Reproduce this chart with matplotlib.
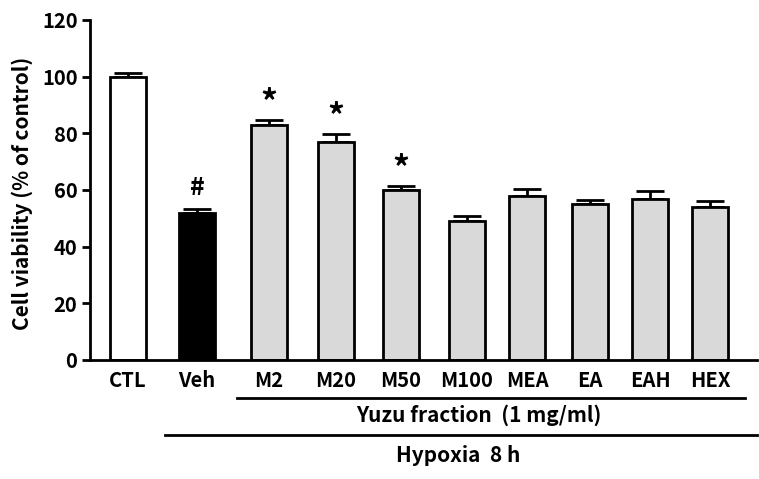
import numpy as np
import matplotlib.pyplot as plt
import matplotlib.transforms as mtransforms

plt.rcParams['font.family'] = ['Noto Sans CJK KR', 'DejaVu Sans']
plt.rcParams['font.weight'] = 'bold'

# Datos
grupos = ['CTL', 'Veh', 'M2', 'M20', 'M50', 'M100', 'MEA', 'EA', 'EAH', 'HEX']
viabilidad = [100, 52, 83, 77, 60, 49, 58, 55, 57, 54]
error = [1.3, 1.2, 1.8, 2.8, 1.4, 2.0, 2.5, 1.6, 2.8, 2.1]
marcas = ['', '#', '*', '*', '*', '', '', '', '', '']
colores = ['white', 'black'] + ['#d9d9d9'] * 8

# posiciones de las barras (en px del eje)
xpos = np.array([128, 197, 269, 336, 401, 467, 527, 590, 650, 710])

fig = plt.figure(figsize=(7.59, 4.79), dpi=100)
ax = fig.add_axes([90/759, 1 - 360/479, (757 - 90)/759, 340/479])

ax.bar(xpos, viabilidad, width=36, color=colores, edgecolor='black', linewidth=2, zorder=2)
ax.errorbar(xpos, viabilidad, yerr=[np.zeros(len(error)), error], fmt='none',
            ecolor='black', elinewidth=2, capsize=10, capthick=2, zorder=1)

for x, v, e, m in zip(xpos, viabilidad, error, marcas):
    if m == '*':
        ax.text(x, v + e + 6.0, m, ha='center', va='center', fontsize=24, fontweight='bold')
    elif m == '#':
        ax.text(x, v + e + 7.5, m, ha='center', va='center', fontsize=18, fontweight='bold')

ax.set_xlim(90, 757)
ax.set_ylim(0, 120)
ax.set_yticks(np.arange(0, 121, 20))
ax.set_xticks(xpos)
ax.set_xticklabels(grupos)
ax.tick_params(axis='y', length=6, width=2, labelsize=14.5, pad=3)
ax.tick_params(axis='x', length=0, labelsize=14.5, pad=7)
for lab in ax.get_xticklabels() + ax.get_yticklabels():
    lab.set_fontweight('bold')
ax.spines['top'].set_visible(False)
ax.spines['right'].set_visible(False)
ax.spines['left'].set_linewidth(2)
ax.spines['bottom'].set_linewidth(2)

fig.text(22/759, 1 - 193/479, 'Cell viability (% of control)', rotation=90,
         ha='center', va='center', fontsize=15, fontweight='bold')

# lineas de grupos
trans = mtransforms.blended_transform_factory(ax.transData, fig.transFigure)
ax.plot([237, 745], [1 - 398/479] * 2, color='black', linewidth=2, transform=trans, clip_on=False)
ax.text(479, 1 - 415/479, 'Yuzu fraction  (1 mg/ml)', transform=trans, ha='center', va='center',
        fontsize=15, fontweight='bold')
ax.plot([165, 757], [1 - 435/479] * 2, color='black', linewidth=2, transform=trans, clip_on=False)
ax.text(458, 1 - 456/479, 'Hypoxia  8 h', transform=trans, ha='center', va='center',
        fontsize=15, fontweight='bold')

plt.savefig('out.png', dpi=100)
